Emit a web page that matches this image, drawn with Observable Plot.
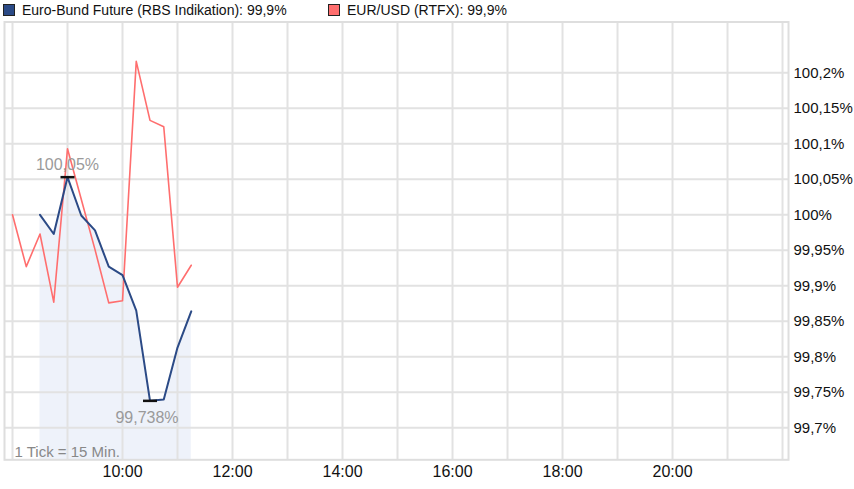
<!DOCTYPE html>
<html>
<head>
<meta charset="utf-8">
<script src="https://cdn.jsdelivr.net/npm/d3@7"></script>
<script src="https://cdn.jsdelivr.net/npm/@observablehq/plot@0.6"></script>
<style>
  html, body { margin: 0; padding: 0; background: #fff; }
  body { font-family: "Liberation Sans", Arial, sans-serif; width: 854px; height: 489px; overflow: hidden; }
  #legend { position: relative; height: 18px; font-size: 14px; color: #111; white-space: nowrap; }
  .item { position: absolute; top: 3px; display: flex; align-items: center; line-height: 14px; }
  .sw { width: 12px; height: 12px; box-sizing: border-box; border: 1px solid #222; margin-right: 7px; }
  svg { display: block; }
</style>
</head>
<body>
<div id="legend"></div>
<div id="chart"></div>
<script>
// ---- data ----
const seriesNames = ["Euro-Bund Future (RBS Indikation)", "EUR/USD (RTFX)"];
const seriesColors = ["#2b4a86", "#ff6e6e"];
const seriesLast = ["99,9%", "99,9%"];

const bundTimes  = ["08:30","08:45","09:00","09:15","09:30","09:45","10:00","10:15","10:30","10:45","11:00","11:15"];
const bundValues = [100.000, 99.973, 100.053, 99.999, 99.978, 99.927, 99.915, 99.865, 99.738, 99.740, 99.813, 99.864];

const fxTimes  = ["08:00","08:15","08:30","08:45","09:00","09:15","09:30","09:45","10:00","10:15","10:30","10:45","11:00","11:15"];
const fxValues = [100.000, 99.927, 99.973, 99.877, 100.093, 100.022, 99.951, 99.876, 99.879, 100.216, 100.133, 100.124, 99.898, 99.929];

const annotTimes  = ["09:00", "10:30"];
const annotLabels = ["100,05%", "99,738%"];
const annotSide   = ["above", "below"];

const xGridHours  = [8,9,10,11,12,13,14,15,16,17,18,19,20,21,22];
const xLabelHours = [10,12,14,16,18,20];
const yTicks = [99.7, 99.75, 99.8, 99.85, 99.9, 99.95, 100, 100.05, 100.1, 100.15, 100.2];
const noteText = "1 Tick = 15 Min.";

// ---- build ----
const toH = s => +s.slice(0,2) + (+s.slice(3))/60;
const bund = bundTimes.map((t,i) => ({t: toH(t), v: bundValues[i]}));
const fx = fxTimes.map((t,i) => ({t: toH(t), v: fxValues[i]}));
const annots = annotTimes.map((t,i) => {
  const p = bund.find(d => Math.abs(d.t - toH(t)) < 1e-6);
  return {t: p.t, v: p.v, label: annotLabels[i], side: annotSide[i]};
});

const legend = document.getElementById("legend");
const legendX = [3, 328];
seriesNames.forEach((n,i) => {
  const it = document.createElement("div");
  it.className = "item";
  it.style.left = legendX[i] + "px";
  it.innerHTML = `<span class="sw" style="background:${seriesColors[i]}"></span><span>${n}: ${seriesLast[i]}</span>`;
  legend.appendChild(it);
});

const yFmt = d => d3.format(".2~f")(d).replace(".", ",") + "%";
const yMin = 99.655, yMax = 100.2715;
const hLine = {draw(ctx) { ctx.moveTo(-7, 0); ctx.lineTo(7, 0); }};

const chart = Plot.plot({
  width: 854,
  height: 471,
  marginTop: 3.5,
  marginBottom: 29.7,
  marginLeft: 4,
  marginRight: 66,
  x: {domain: [7.8545, 22.109], label: null},
  y: {domain: [yMin, yMax], label: null},
  style: {fontFamily: '"Liberation Sans", Arial, sans-serif', fontSize: "16px", color: "#111", background: "#fff"},
  marks: [
    Plot.areaY(bund, {x: "t", y1: () => yMin, y2: "v", fill: "#eef2fa"}),
    Plot.gridX(xGridHours, {stroke: "#e2e2e2", strokeOpacity: 1, strokeWidth: 2}),
    Plot.gridY(yTicks, {stroke: "#e2e2e2", strokeOpacity: 1, strokeWidth: 2}),
    Plot.frame({stroke: "#dedede", strokeWidth: 2}),
    Plot.axisX(xLabelHours, {tickSize: 0, tickPadding: 6, tickFormat: d => `${d}:00`, fontSize: 16, fill: "#111", label: null}),
    Plot.axisY(yTicks, {anchor: "right", tickSize: 0, tickPadding: 5, tickFormat: yFmt, fontSize: 15, fill: "#111", label: null}),
    Plot.line(fx, {x: "t", y: "v", stroke: seriesColors[1], strokeWidth: 1.6}),
    Plot.line(bund, {x: "t", y: "v", stroke: seriesColors[0], strokeWidth: 2}),
    Plot.dot(annots, {x: "t", y: "v", symbol: hLine, stroke: "#111", strokeWidth: 2.5, r: 5}),
    Plot.text(annots.filter(d => d.side === "above"), {x: "t", y: "v", text: "label", dy: -12, fill: "#9a9a9a", fontSize: 16}),
    Plot.text(annots.filter(d => d.side === "below"), {x: "t", y: "v", text: "label", dy: 17, dx: -3, fill: "#9a9a9a", fontSize: 16}),
    Plot.text([noteText], {frameAnchor: "bottom-left", text: d => d, textAnchor: "start", lineAnchor: "bottom", dx: 10, dy: -3, fill: "#888", fontSize: 15})
  ]
});
document.getElementById("chart").appendChild(chart);
</script>
</body>
</html>
